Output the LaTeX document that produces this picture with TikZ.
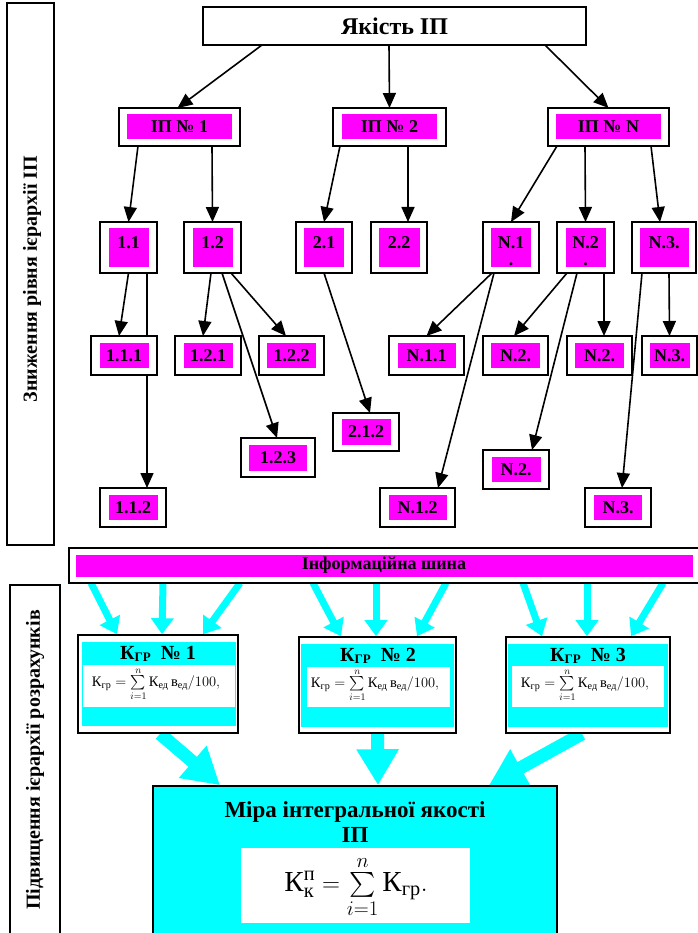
\documentclass[tikz,border=0pt]{standalone}
\usepackage{amsmath}
\usepackage{fontspec}
\setmainfont{Liberation Serif}
\usetikzlibrary{arrows.meta}
\definecolor{mag}{RGB}{255,0,255}
\definecolor{cya}{RGB}{0,255,255}
\newcommand\fs[1]{\fontsize{#1}{#1}\selectfont}
\pgfdeclarelayer{bg}
\pgfsetlayers{bg,main}
\tikzset{
  obox/.style={draw, line width=1.6pt, fill=white, inner sep=0pt, outer sep=0pt},
  mfill/.style={fill=mag, inner sep=0pt, outer sep=0pt},
  lbl/.style={inner sep=0pt, font=\bfseries\fs{18}},
  blk/.style={line width=1.6pt, -{Triangle[length=15pt,width=13pt]}},
  cyn/.style={draw=cya, line width=7pt, -{Triangle[length=16pt,width=22pt]}},
  bigcyn/.style={draw=cya, line width=13pt, -{Triangle[length=36pt,width=40pt]}},
  side/.style={draw, line width=1.6pt, inner sep=0pt},
  vlab/.style={rotate=90, font=\bfseries\fs{20}, inner sep=0pt},
  kbox/.style={draw, line width=1.6pt, fill=white, inner sep=0pt},
  cpan/.style={fill=cya, inner sep=0pt},
  wpan/.style={fill=white, inner sep=0pt},
  ktitle/.style={font=\bfseries\fs{20}, inner sep=0pt},
  kform/.style={font=\fs{14.5}, inner sep=0pt},
}
\newcommand\pbox[9]{%
  \node[obox, minimum width=#4pt, minimum height=#5pt] (#1) at (#2,#3) {};
  \node[mfill, minimum width=#6pt, minimum height=#7pt] (#1i) at (#2,#3) {};
  \node[lbl, yshift=#9pt] (#1t) at (#2,#3) {#8};}
\newcommand\kformula{$\text{К}_{\text{гр}} = \sum\limits_{i=1}^{n} \text{К}_{\text{ед}}\,\text{в}_{\text{ед}}/100,$}
\begin{document}
\begin{tikzpicture}[x=1pt, y=-1pt]
\useasboundingbox (0,0) rectangle (697,933);

% side panels
\node[side, minimum width=47pt, minimum height=542pt] (lp1) at (30.5,274) {};
\node[vlab] (lp1t) at (32,279) {Зниження рівня ієрархії ІП};
\node[side, minimum width=50pt, minimum height=349pt] (lp2) at (35,759.5) {};
\node[vlab] (lp2t) at (35,760) {Підвищення ієрархії розрахунків};

% top
\node[obox, minimum width=383pt, minimum height=38pt, font=\bfseries\fs{24}] (top) at (394.5,26) {Якість ІП};

% level 1
\pbox{ipa}{179.5}{127}{121}{38}{105}{25}{ІП № 1}{0}
\pbox{ipb}{389.5}{127}{113}{38}{95}{25}{ІП № 2}{0}
\pbox{ipn}{608.5}{127}{121}{38}{105}{25}{ІП № N}{0}

% level 2
\pbox{n11}{128.5}{247.5}{57}{51}{40}{38}{1.1}{5}
\pbox{n12}{212.5}{247.5}{57}{51}{40}{38}{1.2}{5}
\pbox{n21}{324}{247.5}{56}{51}{40}{38}{2.1}{5}
\pbox{n22}{399}{247.5}{56}{51}{41}{38}{2.2}{5}
\pbox{nNa}{511}{247.5}{56}{51}{40}{38}{N.1}{5}
\node[lbl] (nNad) at (511,264) {.};
\pbox{nNb}{585.5}{247.5}{57}{51}{40}{38}{N.2}{5}
\node[lbl] (nNbd) at (585.5,264) {.};
\pbox{nNc}{664}{247.5}{64}{51}{49}{38}{N.3.}{5}

% level 3
\pbox{n111}{124}{355.5}{66}{39}{49}{25}{1.1.1}{0}
\pbox{n121}{208}{355.5}{66}{39}{49}{25}{1.2.1}{0}
\pbox{n122}{291.5}{355.5}{65}{39}{49}{25}{1.2.2}{0}
\pbox{nN11}{426.5}{355.5}{75}{39}{58}{25}{N.1.1}{0}
\pbox{nN2a}{515.5}{355.5}{65}{39}{49}{25}{N.2.}{0}
\pbox{nN2b}{599.5}{355.5}{65}{39}{49}{25}{N.2.}{0}
\pbox{nN3c}{669.5}{355.5}{55}{39}{40}{25}{N.3.}{0}
\pbox{n212}{366}{432}{66}{38}{49}{26}{2.1.2}{0}
\pbox{n123}{278}{457.5}{74}{39}{58}{26}{1.2.3}{0}
\pbox{nN2d}{516}{469.5}{66}{39}{49}{25}{N.2.}{0}
\pbox{n112}{133}{507.5}{66}{39}{49}{25}{1.1.2}{0}
\pbox{nN12}{417.5}{507.5}{75}{39}{58}{25}{N.1.2}{0}
\pbox{nN3e}{618}{507.5}{66}{39}{48}{25}{N.3.}{0}

% information bus
\pbox{bus}{384}{565.5}{630}{35}{617}{22}{Інформаційна шина}{0}

% K boxes
\node[kbox, minimum width=160pt, minimum height=98pt] (k1) at (158,684) {};
\node[cpan, minimum width=154pt, minimum height=84pt] (k1c) at (159,684) {};
\node[wpan, minimum width=152pt, minimum height=42pt] (k1w) at (159,686) {};
\node[ktitle] (k1t) at (158,654) {К\raisebox{-0.25ex}{\fs{13}ГР}\ \ № 1};
\node[kform] (k1f) at (156,684) {\kformula};

\node[kbox, minimum width=157pt, minimum height=96pt] (k2) at (377.5,685) {};
\node[cpan, minimum width=153pt, minimum height=83pt] (k2c) at (377.5,685.5) {};
\node[wpan, minimum width=143pt, minimum height=40pt] (k2w) at (378.5,687) {};
\node[ktitle] (k2t) at (378,656) {К\raisebox{-0.25ex}{\fs{13}ГР}\ \ № 2};
\node[kform] (k2f) at (375,685) {\kformula};

\node[kbox, minimum width=164pt, minimum height=96pt] (k3) at (588,685) {};
\node[cpan, minimum width=160pt, minimum height=83pt] (k3c) at (588,685.5) {};
\node[wpan, minimum width=152pt, minimum height=41pt] (k3w) at (588,686.5) {};
\node[ktitle] (k3t) at (588,656) {К\raisebox{-0.25ex}{\fs{13}ГР}\ \ № 3};
\node[kform] (k3f) at (585,685) {\kformula};

% big box
\node[draw, line width=1.6pt, fill=cya, inner sep=0pt, minimum width=404pt, minimum height=148pt] (big) at (355,860) {};
\node[font=\bfseries\fs{23}, align=center, inner sep=0pt] (bigt) at (355,822) {Міра інтегральної якості\\[2pt]ІП};
\node[wpan, minimum width=229pt, minimum height=75pt] (bigw) at (355.5,885.5) {};
\node[font=\fs{29}, inner sep=0pt] (bigf) at (356,887) {$\text{К}_{\text{к}}^{\text{п}} = \sum\limits_{i=1}^{n} \text{К}_{\text{гр}}.$};

\begin{pgfonlayer}{bg}
% black arrows
\draw[blk] ([xshift=-132.5pt]top.south) -- ([xshift=-2pt]ipa.north);
\draw[blk] ([xshift=-5.5pt]top.south) -- (ipb.north);
\draw[blk] ([xshift=150.5pt]top.south) -- (ipn.north);
\draw[blk] ([xshift=-41.5pt]ipa.south) -- (n11.north);
\draw[blk] ([xshift=32.5pt]ipa.south) -- (n12.north);
\draw[blk] ([xshift=-49.5pt]ipb.south) -- (n21.north);
\draw[blk] ([xshift=18.5pt]ipb.south) -- ([xshift=9pt]n22.north);
\draw[blk] ([xshift=-51.5pt]ipn.south) -- (nNa.north);
\draw[blk] ([xshift=-23.5pt]ipn.south) -- (nNb.north);
\draw[blk] ([xshift=42.5pt]ipn.south) -- ([xshift=-4pt]nNc.north);
\draw[blk] (n11.south) -- ([xshift=-5pt]n111.north);
\draw[blk] ([xshift=18.5pt]n11.south) -- ([xshift=14pt]n112.north);
\draw[blk] ([xshift=-1.5pt]n12.south) -- ([xshift=-5pt]n121.north);
\draw[blk] ([xshift=9.5pt]n12.south) -- ([xshift=-1pt]n123.north);
\draw[blk] ([xshift=18.5pt]n12.south) -- ([xshift=-5.5pt]n122.north);
\draw[blk] (n21.south) -- ([xshift=4pt]n212.north);
\draw[blk] ([xshift=-19pt]nNa.south) -- (nN11.north);
\draw[blk] ([xshift=-17pt]nNa.south) -- ([xshift=20.5pt]nN12.north);
\draw[blk] ([xshift=-18.5pt]nNb.south) -- ([xshift=-1.5pt]nN2a.north);
\draw[blk] ([xshift=-8.5pt]nNb.south) -- ([xshift=16pt]nN2d.north);
\draw[blk] ([xshift=18.5pt]nNb.south) -- ([xshift=4.5pt]nN2b.north);
\draw[blk] ([xshift=-22pt]nNc.south) -- ([xshift=4pt]nN3e.north);
\draw[blk] ([xshift=5pt]nNc.south) -- (nN3c.north);
% cyan thin arrows
\draw[cyn] ([xshift=-293pt]bus.south) -- ([xshift=-41pt]k1.north);
\draw[cyn] ([xshift=-221pt]bus.south) -- ([xshift=4pt]k1.north);
\draw[cyn] ([xshift=-144pt]bus.south) -- ([xshift=45pt]k1.north);
\draw[cyn] ([xshift=-71pt]bus.south) -- ([xshift=-36.5pt]k2.north);
\draw[cyn] ([xshift=-8pt]bus.south) -- ([xshift=-1.5pt]k2.north);
\draw[cyn] ([xshift=62pt]bus.south) -- ([xshift=39.5pt]k2.north);
\draw[cyn] ([xshift=139pt]bus.south) -- ([xshift=-46pt]k3.north);
\draw[cyn] ([xshift=203pt]bus.south) -- ([xshift=-1pt]k3.north);
\draw[cyn] ([xshift=279pt]bus.south) -- ([xshift=43pt]k3.north);
% cyan big arrows
\draw[bigcyn] ([xshift=2pt]k1.south) -- ([xshift=-135pt]big.north);
\draw[bigcyn] (k2.south) -- ([xshift=23pt]big.north);
\draw[bigcyn] ([xshift=-6pt]k3.south) -- ([xshift=134pt]big.north);
\end{pgfonlayer}
\end{tikzpicture}
\end{document}
